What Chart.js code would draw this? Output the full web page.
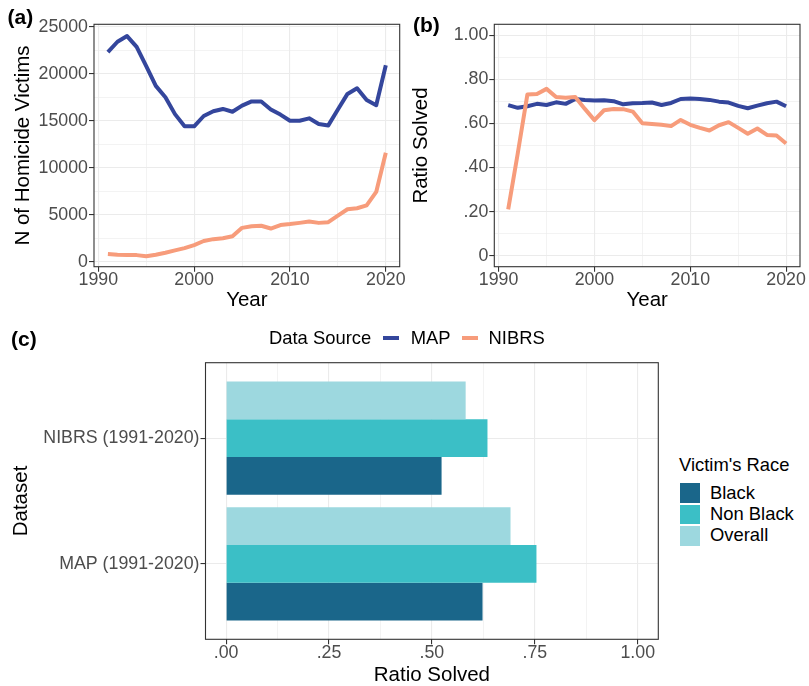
<!DOCTYPE html>
<html><head><meta charset="utf-8">
<script src="https://cdn.jsdelivr.net/npm/chart.js@4.4.0/dist/chart.umd.min.js"></script>
<style>
html,body{margin:0;padding:0;background:#fff;overflow:hidden;width:809px;height:686px;}
body{position:relative;font-family:'Liberation Sans',Arial,Helvetica,sans-serif;}
.box{position:absolute;}
.lab{position:absolute;line-height:1;white-space:nowrap;color:#000;}
.tag{position:absolute;line-height:1;font-weight:bold;font-size:21px;white-space:nowrap;color:#000;}
.key{position:absolute;}
</style></head><body>
<div class="box" style="left:0;top:0;width:410px;height:313px"><canvas id="ca"></canvas></div>
<div class="box" style="left:400px;top:0;width:409px;height:313px"><canvas id="cb"></canvas></div>
<div class="box" style="left:0;top:340px;width:670px;height:346px"><canvas id="cc"></canvas></div>
<div class="tag" style="left:7.5px;top:6px">(a)</div>
<div class="tag" style="left:413px;top:13.5px">(b)</div>
<div class="tag" style="left:11px;top:327.5px">(c)</div>
<div id="legTop"></div>
<div id="legRace"></div>
<script>
// ---------- data ----------
const years = [1991,1992,1993,1994,1995,1996,1997,1998,1999,2000,2001,2002,2003,2004,2005,2006,2007,2008,2009,2010,2011,2012,2013,2014,2015,2016,2017,2018,2019,2020];
const sources = ['MAP','NIBRS'];
const sourceColors = ['#34469C','#F79C7B'];
const mapVictims = [22300,23400,24000,22850,20800,18700,17500,15700,14400,14400,15500,16000,16250,15950,16600,17050,17050,16200,15650,15000,15000,15250,14650,14500,16200,17850,18450,17200,16650,20900];
const nibrsVictims = [810,740,710,700,570,740,950,1200,1450,1770,2200,2400,2500,2700,3600,3780,3820,3530,3900,4000,4130,4270,4130,4200,4900,5580,5690,6000,7420,11600];
const mapRatio = [0.683,0.671,0.678,0.689,0.684,0.696,0.689,0.711,0.707,0.704,0.705,0.701,0.687,0.692,0.693,0.695,0.684,0.693,0.711,0.713,0.711,0.707,0.699,0.695,0.680,0.669,0.681,0.692,0.699,0.678];
const nibrsRatio = [0.210,0.465,0.731,0.734,0.757,0.720,0.717,0.720,0.666,0.615,0.660,0.666,0.665,0.654,0.601,0.598,0.594,0.588,0.616,0.594,0.580,0.568,0.592,0.606,0.580,0.553,0.577,0.548,0.545,0.509];

const datasetNames = ['NIBRS (1991-2020)','MAP (1991-2020)'];
const races = ['Black','Non Black','Overall'];
const raceColors = ['#1A668A','#3BBFC6','#9DD8DF'];
const blackSolved    = [0.5235, 0.623];
const nonBlackSolved = [0.635, 0.754];
const overallSolved  = [0.582, 0.691];

const yearTicks = [1990,1995,2000,2005,2010,2015,2020];
const yearTickLabels = ['1990','','2000','','2010','','2020'];
const victimTicks = [0,2500,5000,7500,10000,12500,15000,17500,20000,22500,25000];
const victimTickLabels = ['0','','5000','','10000','','15000','','20000','','25000'];
const ratioTicks = [0,0.1,0.2,0.3,0.4,0.5,0.6,0.7,0.8,0.9,1.0];
const ratioTickLabels = ['0','','.20','','.40','','.60','','.80','','1.00'];
const solvedTicks = [0,0.125,0.25,0.375,0.5,0.625,0.75,0.875,1.0];
const solvedTickLabels = ['.00','','.25','','.50','','.75','','1.00'];
const datasetTicks = [1,2];

// ---------- helpers ----------
Chart.defaults.font.family = "'Liberation Sans', Arial, Helvetica, sans-serif";
const GRID = '#EBEBEB';
const panelBorder = {
  id:'panelBorder',
  afterDraw(chart){
    const {ctx, chartArea:a} = chart;
    ctx.save();
    ctx.strokeStyle = '#333333';
    ctx.lineWidth = 1.1;
    ctx.strokeRect(a.left, a.top, a.right - a.left, a.bottom - a.top);
    ctx.restore();
  }
};
function axis(o){
  return {
    type:'linear', min:o.min, max:o.max, reverse:!!o.reverse, bounds:'data', offset:false,
    afterBuildTicks: s => { s.ticks = o.ticks.map(v => ({value:v})); },
    afterFit: s => { if (o.horizontal) s.height = o.fit; else s.width = o.fit; },
    ticks:{autoSkip:false, maxRotation:0, minRotation:0, padding:o.tickPad, color:'#4D4D4D',
      font:{size:17.8, lineHeight:1}, callback:(v,i) => o.labels[i]},
    grid:{offset:false, drawTicks:true, tickLength:5, color:GRID,
      lineWidth: c => (o.labels[c.index] === '' ? 0.6 : 1.1),
      tickColor: c => (o.labels[c.index] === '' ? 'rgba(0,0,0,0)' : '#333333'),
      tickWidth:1.1},
    border:{display:false},
    title:{display:true, text:o.title, color:'#000000',
      font:{size:20.5, lineHeight:o.titleLH || 1.2}, padding:o.titlePad}
  };
}
function lineSets(vals){
  return sources.map((s, k) => ({
    label:s,
    data: years.map((y, i) => ({x:y, y:vals[k][i]})),
    borderColor:sourceColors[k], backgroundColor:sourceColors[k],
    borderWidth:4, pointRadius:0, tension:0, fill:false,
    borderJoinStyle:'round', borderCapStyle:'butt',
    order: k === 0 ? 1 : 0
  }));
}
const common = {
  responsive:true, maintainAspectRatio:false, animation:false, devicePixelRatio:1,
  plugins:{legend:{display:false}, tooltip:{enabled:false}}
};

// ---------- (a) ----------
new Chart(document.getElementById('ca'), {
  type:'line',
  data:{datasets: lineSets([mapVictims, nibrsVictims])},
  options:Object.assign({}, common, {
    layout:{padding:{top:24.3, right:10.3, bottom:0, left:0}},
    scales:{
      x: axis({min:1989.55, max:2021.45, ticks:yearTicks, labels:yearTickLabels, horizontal:true, fit:46.3, tickPad:0,
               title:'Year', titlePad:{top:0, bottom:0.4}}),
      y: axis({min:-532, max:25255, ticks:victimTicks, labels:victimTickLabels, fit:94, tickPad:1,
               title:'N of Homicide Victims', titlePad:{top:11.2, bottom:0}})
    }
  }),
  plugins:[panelBorder]
});

// ---------- (b) ----------
new Chart(document.getElementById('cb'), {
  type:'line',
  data:{datasets: lineSets([mapRatio, nibrsRatio])},
  options:Object.assign({}, common, {
    layout:{padding:{top:24.3, right:9, bottom:0, left:0}},
    scales:{
      x: axis({min:1989.55, max:2021.45, ticks:yearTicks, labels:yearTickLabels, horizontal:true, fit:46.3, tickPad:0,
               title:'Year', titlePad:{top:0, bottom:0.4}}),
      y: axis({min:-0.05, max:1.05, ticks:ratioTicks, labels:ratioTickLabels, fit:94.3, tickPad:1,
               title:'Ratio Solved', titlePad:{top:9.4, bottom:0}})
    }
  }),
  plugins:[panelBorder]
});

// ---------- (c) ----------
const raceValues = [blackSolved, nonBlackSolved, overallSolved];
const barSets = [2,1,0].map(r => ({
  label:races[r],
  data: datasetNames.map((d, i) => ({x:raceValues[r][i], y:datasetTicks[i]})),
  backgroundColor:raceColors[r], borderWidth:0,
  categoryPercentage:0.9, barPercentage:1.0
}));
new Chart(document.getElementById('cc'), {
  type:'bar',
  data:{datasets:barSets},
  options:Object.assign({}, common, {
    indexAxis:'y',
    layout:{padding:{top:22.7, right:11.7, bottom:0, left:0}},
    scales:{
      x: axis({min:-0.05, max:1.05, ticks:solvedTicks, labels:solvedTickLabels, horizontal:true, fit:46.7, tickPad:0,
               title:'Ratio Solved', titleLH:1.0, titlePad:{top:0, bottom:0.75}}),
      y: axis({min:0.4, max:2.6, reverse:true, ticks:datasetTicks, labels:datasetNames, fit:205.5, tickPad:1,
               title:'Dataset', titlePad:{top:9.4, bottom:0}})
    }
  }),
  plugins:[panelBorder]
});

// ---------- legends (HTML) ----------
(function(){
  const top = document.getElementById('legTop');
  const fs = 18.4;
  let h = `<div class="lab" style="left:269px;top:329.3px;font-size:${fs}px">Data Source</div>`;
  const keyX = [383, 462.3], textX = [410.7, 488.5];
  sources.forEach((s, k) => {
    h += `<div class="key" style="left:${keyX[k]}px;top:335.5px;width:16px;height:4px;background:${sourceColors[k]}"></div>`;
    h += `<div class="lab" style="left:${textX[k]}px;top:329.3px;font-size:${fs}px">${s}</div>`;
  });
  top.innerHTML = h;

  const leg = document.getElementById('legRace');
  let g = `<div class="lab" style="left:679px;top:455.6px;font-size:${fs}px">Victim's Race</div>`;
  const boxTop = [483, 504.5, 526], textTop = [484.1, 505.1, 526.3];
  races.forEach((r, k) => {
    g += `<div class="key" style="left:680px;top:${boxTop[k]}px;width:20px;height:19.6px;background:${raceColors[k]}"></div>`;
    g += `<div class="lab" style="left:710px;top:${textTop[k]}px;font-size:${fs}px">${r}</div>`;
  });
  leg.innerHTML = g;
})();
</script>
</body></html>
